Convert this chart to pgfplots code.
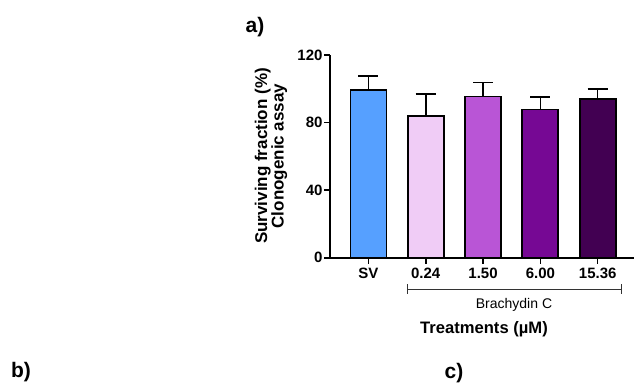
\documentclass[border=0pt]{standalone}
\usepackage{pgfplots}
\pgfplotsset{compat=1.18}
\usepackage{fontspec}
\setmainfont{Liberation Sans}
\definecolor{cSV}{RGB}{86,160,255}
\definecolor{cA}{RGB}{240,204,246}
\definecolor{cB}{RGB}{185,85,214}
\definecolor{cC}{RGB}{118,8,148}
\definecolor{cD}{RGB}{66,0,82}
\pgfplotsset{mybar/.style={ybar, bar width=36pt, bar shift=0pt, draw=black, line width=1.8pt,
    error bars/y dir=plus, error bars/y explicit,
    error bars/error bar style={line width=1.6pt, black},
    error bars/error mark options={rotate=90, mark size=10pt, line width=1.6pt, black}}}
\begin{document}
\begin{tikzpicture}
\path[use as bounding box] (0pt,0pt) rectangle (634pt,-383pt);
\begin{axis}[
  at={(330pt,-257.7pt)}, anchor=south west,
  scale only axis, width=303.5pt, height=202.7pt,
  xmin=-0.67, xmax=4.625, ymin=0, ymax=120,
  axis lines=left, axis line style={-, line width=1.6pt, black},
  tick align=outside, major tick length=6pt,
  tick style={line width=1.6pt, black},
  xtick={0,1,2,3,4}, xticklabels={SV,0.24,1.50,6.00,15.36},
  ytick={0,40,80,120},
  ticklabel style={font=\fontsize{15}{15}\selectfont\bfseries},
  /pgf/number format/assume math mode=true,
  yticklabel style={xshift=2pt},
  xticklabel style={yshift=-1pt},
  clip=false,
]
\addplot[mybar, fill=cSV] coordinates {(0,99.4) +- (0,8.3)};
\addplot[mybar, fill=cA] coordinates {(1,83.8) +- (0,13.0)};
\addplot[mybar, fill=cB] coordinates {(2,95.4) +- (0,8.3)};
\addplot[mybar, fill=cC] coordinates {(3,87.7) +- (0,7.3)};
\addplot[mybar, fill=cD] coordinates {(4,93.8) +- (0,6.1)};
\end{axis}
\node[font=\fontsize{21}{21}\selectfont\bfseries] at (255pt,-27pt) {a)};
\node[font=\fontsize{21}{21}\selectfont\bfseries] at (21pt,-372pt) {b)};
\node[font=\fontsize{21}{21}\selectfont\bfseries] at (454pt,-373pt) {c)};
\node[rotate=90, align=center, font=\fontsize{17}{16.5}\selectfont\bfseries] at (271pt,-156pt) {Surviving fraction (\%)\\Clonogenic assay};
\draw[line width=1pt, black!80] (407pt,-289pt) -- (621pt,-289pt);
\draw[line width=1pt, black!80] (407pt,-284pt) -- (407pt,-294pt);
\draw[line width=1pt, black!80] (621pt,-284pt) -- (621pt,-294pt);
\node[font=\fontsize{14}{14}\selectfont] at (514pt,-304.5pt) {Brachydin C};
\node[font=\fontsize{16.6}{16.6}\selectfont\bfseries] at (484pt,-329pt) {Treatments (µM)};
\end{tikzpicture}
\end{document}
